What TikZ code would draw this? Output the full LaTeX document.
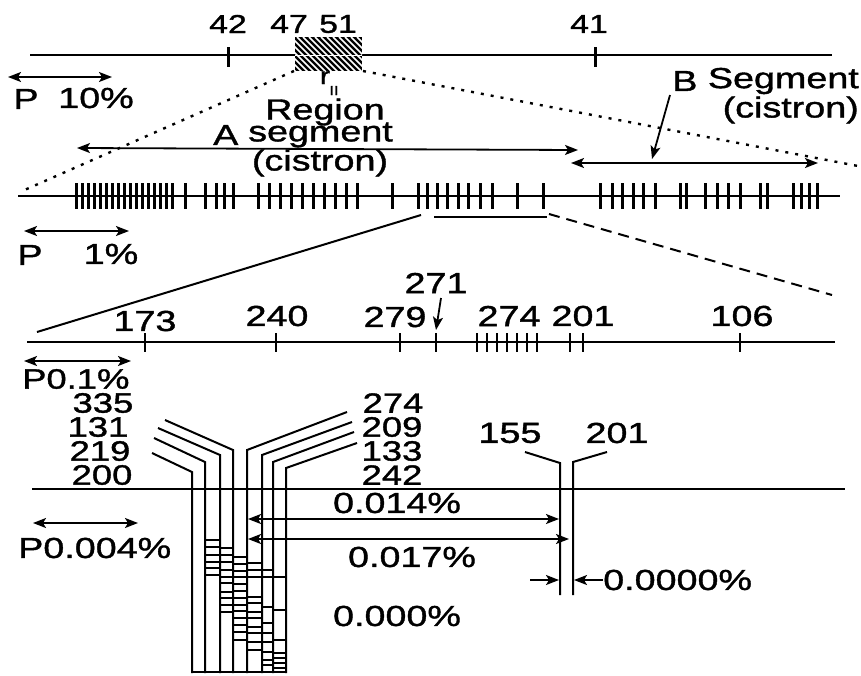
\documentclass[tikz,border=0pt]{standalone}
\usepackage{fontspec}
\setmainfont[FakeStretch=1.3,FakeBold=1.3]{Liberation Sans}
\usetikzlibrary{arrows.meta}
\begin{document}
\begin{tikzpicture}[x=1pt,y=-1pt,
  axis/.style={line width=2.2pt},
  bigtick/.style={line width=3pt},
  smalltick/.style={line width=2.2pt},
  lbl/.style={font=\fontsize{29}{29}\selectfont, inner sep=0pt},
  stacklbl/.style={font=\fontsize{28}{28}\selectfont, inner sep=0pt},
  toplbl/.style={font=\fontsize{26}{26}\selectfont, inner sep=0pt},
  dim/.style={line width=1.8pt, {Stealth[length=13pt,width=10pt,inset=3pt]}-{Stealth[length=13pt,width=10pt,inset=3pt]}},
  onearrow/.style={line width=1.8pt, -{Stealth[length=13pt,width=10pt,inset=3pt]}},
  dotline/.style={line width=2.4pt, dash pattern=on 3pt off 7pt},
  dashline/.style={line width=2pt, dash pattern=on 11pt off 7pt},
  strand/.style={line width=2pt},
  rung/.style={line width=1.3pt}
]
\useasboundingbox (0,0) rectangle (861,675);

% ---------- top map ----------
\coordinate (t1l) at (30,55);
\coordinate (t1r) at (832,55);
\draw[axis] (t1l) -- (t1r);
\draw[bigtick] (228,47) -- (228,67);
\draw[bigtick] (595,47) -- (595,67);
\fill (295,37) rectangle (362,71);
\begin{scope}
  \clip (295,37) rectangle (362,71);
  \foreach \i in {-40,-34,...,70} \draw[white, line width=1.6pt] (295+\i,37) -- ++(40,40);
  \draw[white, line width=1pt] (295,55) -- (362,55);
\end{scope}
\coordinate (boxSW) at (294,71);
\coordinate (boxSE) at (363,71);
\node[toplbl] (n42) at (228,24) {42};
\node[toplbl] (n47) at (289,24) {47};
\node[toplbl] (n51) at (338,24) {51};
\node[toplbl] (n41) at (589,24) {41};

\coordinate (p1a) at (8,77);
\coordinate (p1b) at (112,77);
\draw[dim] (p1a) -- (p1b);
\node[lbl] (p1P) at (26,99) {P};
\node[lbl] (p1v) at (96,98) {10\%};

\node[font=\fontsize{24}{24}\selectfont, inner sep=0pt, anchor=base] (rr) at (325,84) {r};
\node[font=\fontsize{13}{13}\selectfont, inner sep=0pt, anchor=base] (rII) at (334,95) {II};

\node[lbl] (region) at (325,112) {Region};
\node[lbl, anchor=west] (Alab) at (213,135) {A};
\node[lbl, anchor=west] (seg) at (248,135) {segment};
\node[lbl] (cisA) at (320,163) {(cistron)};

\node[lbl, anchor=east] (Bseg) at (859,81) {Segment};
\node[lbl, anchor=east] (Blab) at ([xshift=-10pt]Bseg.west) {B};
\node[lbl, anchor=east] (cisB) at (859,110) {(cistron)};

% dotted zoom lines
\coordinate (d2l) at (20,192);
\coordinate (d2r) at (858,166);
\draw[dotline] (boxSW) -- (d2l);
\draw[dotline] (boxSE) -- (d2r);

% A and B extents
\coordinate (Aa) at (77,148);
\coordinate (Ab) at (578,150);
\draw[dim] (Aa) -- (Ab);
\coordinate (Ba) at (571,163);
\coordinate (Bb) at (818,163);
\draw[dim] (Ba) -- (Bb);
\coordinate (Bp) at (670,95);
\coordinate (Bq) at (652,159);
\draw[onearrow] (Bp) -- (Bq);

% ---------- second map ----------
\coordinate (m2l) at (18,196);
\coordinate (m2r) at (840,196);
\draw[axis] (m2l) -- (m2r);
\foreach \x in {76,82,...,172,185,205,216,224,233,258,269,280,291,302,313,324,335,346,357,392,418,427,437,447,458,468,480,492,517,543,600,612,622,633,643,655,680,686,705,717,728,740,760,767,793,801,809,817}
  \draw[bigtick] (\x,183) -- (\x,209);
\coordinate (ul) at (434,217);
\coordinate (ur) at (547,217);
\draw[line width=2pt] (ul) -- (ur);

\coordinate (p2a) at (24,231);
\coordinate (p2b) at (129,231);
\draw[dim] (p2a) -- (p2b);
\node[lbl] (p2P) at (30,255) {P};
\node[lbl] (p2v) at (111,254) {1\%};

% zoom lines to third map
\coordinate (z3a) at (421,215);
\coordinate (z3b) at (37,332);
\draw[line width=2pt] (z3a) -- (z3b);
\coordinate (z3c) at (549,214);
\coordinate (z3d) at (832,295);
\draw[dashline] (z3c) -- (z3d);

% ---------- third map ----------
\coordinate (m3l) at (27,342);
\coordinate (m3r) at (835,342);
\draw[axis] (m3l) -- (m3r);
\foreach \x in {145,276,400,436,477,487,497,507,517,527,537,570,583,740}
  \draw[smalltick] (\x,333) -- (\x,352);
\node[lbl] (n173) at (145,321) {173};
\node[lbl] (n240) at (277,316) {240};
\node[lbl] (n279) at (395,317) {279};
\node[lbl] (n271) at (436,283) {271};
\node[lbl] (n274) at (509,316) {274};
\node[lbl] (n201) at (583,316) {201};
\node[lbl] (n106) at (742,316) {106};
\coordinate (a271) at (441,298);
\coordinate (b271) at (436,330);
\draw[onearrow] (a271) -- (b271);

\coordinate (p3a) at (24,361);
\coordinate (p3b) at (131,361);
\draw[dim] (p3a) -- (p3b);
\node[stacklbl, anchor=west] (p3v) at (22,379) {P0.1\%};

% ---------- fourth map ----------
\node[stacklbl] (l335) at (103,403) {335};
\node[stacklbl] (l131) at (98,427) {131};
\node[stacklbl] (l219) at (100,451) {219};
\node[stacklbl] (l200) at (102,475) {200};
\node[stacklbl] (r274) at (393,403) {274};
\node[stacklbl] (r209) at (392,427) {209};
\node[stacklbl] (r133) at (392,451) {133};
\node[stacklbl] (r242) at (392,475) {242};

\coordinate (m4l) at (32,489);
\coordinate (m4r) at (845,489);
\draw[line width=1.8pt] (m4l) -- (m4r);

\draw[strand] (165,420) -- (233,450) -- (233,673);
\draw[strand] (158,428) -- (220,455) -- (220,673);
\draw[strand] (154,438) -- (205,462) -- (205,673);
\draw[strand] (152,453) -- (192,472) -- (192,673);
\draw[strand] (347,412) -- (247,450) -- (247,673);
\draw[strand] (352,422) -- (262,455) -- (262,673);
\draw[strand] (354,432) -- (273,462) -- (273,673);
\draw[strand] (357,443) -- (286,468) -- (286,673);
\draw[strand] (192,672) -- (286,672);

% ladder rungs
\foreach \y in {540,547,555,562,568,575} \draw[rung] (205,\y) -- (220,\y);
\foreach \y in {548,555,562,570,577,583,592,598,605,612} \draw[rung] (220,\y) -- (233,\y);
\foreach \y in {557,564,571,577,584,591,598,605,611,618,625,632,640} \draw[rung] (233,\y) -- (247,\y);
\foreach \y in {563,570,577,597,603,612,618,627,633,642,650} \draw[rung] (247,\y) -- (262,\y);
\foreach \y in {570,577,607,623,633,642,652,660,665} \draw[rung] (262,\y) -- (273,\y);
\foreach \y in {577,610,640,653,658,663,668} \draw[rung] (273,\y) -- (286,\y);

\node[lbl] (n155) at (510,433) {155};
\node[lbl] (n201b) at (617,433) {201};
\draw[strand] (525,452) -- (560,463) -- (560,595);
\draw[strand] (607,452) -- (573,462) -- (573,595);

\coordinate (p4a) at (33,523);
\coordinate (p4b) at (138,523);
\draw[dim] (p4a) -- (p4b);
\node[lbl, anchor=west] (p4v) at (18,548) {P0.004\%};

\coordinate (c14a) at (248,519);
\coordinate (c14b) at (559,519);
\draw[dim] (c14a) -- (c14b);
\node[lbl] (v014) at (397,503) {0.014\%};
\coordinate (c17a) at (248,539);
\coordinate (c17b) at (569,539);
\draw[dim] (c17a) -- (c17b);
\node[lbl] (v017) at (412,557) {0.017\%};
\coordinate (s1a) at (530,580);
\coordinate (s1b) at (559,580);
\draw[onearrow] (s1a) -- (s1b);
\coordinate (s2a) at (603,580);
\coordinate (s2b) at (574,580);
\draw[onearrow] (s2a) -- (s2b);
\node[lbl, anchor=west] (v0000) at (603,580) {0.0000\%};
\node[lbl] (v000) at (397,616) {0.000\%};
\end{tikzpicture}
\end{document}
